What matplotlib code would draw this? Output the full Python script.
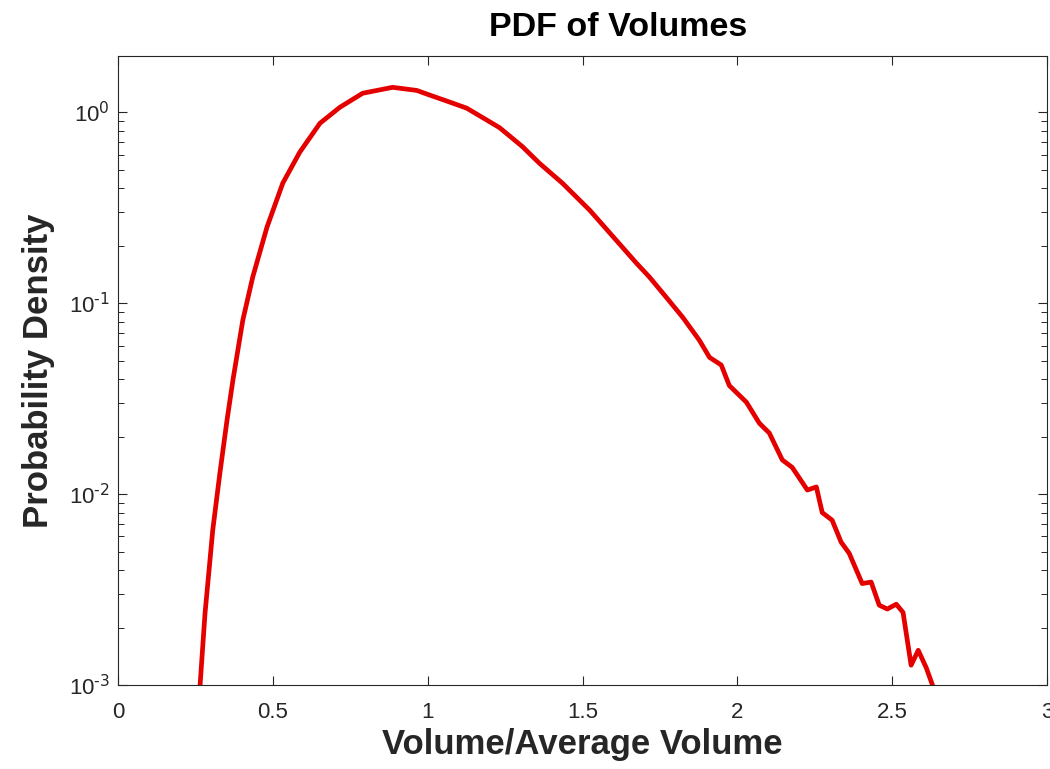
import numpy as np
import matplotlib
matplotlib.use("Agg")
from matplotlib import pyplot as plt
from matplotlib.ticker import FixedLocator, LogLocator, NullFormatter, FuncFormatter

plt.rcParams["font.family"] = ["Liberation Sans", "DejaVu Sans"]
plt.rcParams["mathtext.default"] = "regular"

# values
vol_ratio = [0.265, 0.281, 0.306, 0.329, 0.352, 0.371, 0.403, 0.435, 0.481, 0.532,
             0.587, 0.652, 0.716, 0.790, 0.887, 0.965, 1.006, 1.071, 1.126, 1.232,
             1.306, 1.361, 1.435, 1.523, 1.629, 1.674, 1.716, 1.771, 1.823, 1.877,
             1.910, 1.948, 1.974, 2.029, 2.071, 2.103, 2.145, 2.177, 2.226, 2.255,
             2.274, 2.306, 2.335, 2.361, 2.403, 2.432, 2.458, 2.484, 2.513, 2.535,
             2.561, 2.584, 2.610, 2.629]
density = [0.001, 0.00238, 0.0065, 0.0129, 0.0244, 0.0395, 0.0815, 0.137, 0.25, 0.425,
           0.618, 0.875, 1.06, 1.257, 1.35, 1.30, 1.23, 1.13, 1.05, 0.83,
           0.66, 0.54, 0.425, 0.307, 0.196, 0.162, 0.137, 0.107, 0.0845, 0.064,
           0.052, 0.0474, 0.037, 0.0303, 0.0235, 0.0209, 0.0151, 0.0138, 0.0105, 0.0109,
           0.0080, 0.0073, 0.0056, 0.0049, 0.0034, 0.00346, 0.00262, 0.0025, 0.00265, 0.0024,
           0.00127, 0.00152, 0.00123, 0.00101]
x_ticks = [0, 0.5, 1, 1.5, 2, 2.5, 3]
x_ticklabels = ["0", "0.5", "1", "1.5", "2", "2.5", "3"]
y_ticks = [1e-3, 1e-2, 1e-1, 1e0]

dark = "#262626"

fig = plt.figure(figsize=(10.5, 7.69), dpi=100)
ax = fig.add_axes([0.1124, 0.1092, 0.8848, 0.818])

ax.plot(vol_ratio, density, '-', color="#e50000", linewidth=3.4)
ax.set_yscale("log")
ax.set_xlim(0, 3)
ax.set_ylim(1e-3, 1.97)

ax.xaxis.set_major_locator(FixedLocator(x_ticks))
ax.set_xticklabels(x_ticklabels)
ax.yaxis.set_major_locator(FixedLocator(y_ticks))
ax.yaxis.set_minor_locator(LogLocator(base=10, subs=np.arange(2, 10), numticks=20))
ax.yaxis.set_minor_formatter(NullFormatter())
ax.yaxis.set_major_formatter(
    FuncFormatter(lambda v, p: r"$10^{\text{%d}}$" % round(np.log10(v))))

ax.tick_params(which="both", direction="in", top=True, right=True, colors=dark,
               labelcolor=dark, labelsize=16)
ax.tick_params(which="major", length=6.5, width=0.8)
ax.tick_params(which="minor", length=4, width=0.7)
ax.tick_params(axis="x", pad=12)
ax.tick_params(axis="y", pad=6)
for s in ax.spines.values():
    s.set_color(dark)
    s.set_linewidth(0.8)

ax.set_xlabel("Volume/Average Volume", fontsize=25, fontweight="bold", color=dark, labelpad=4)
ax.set_ylabel("Probability Density", fontsize=25, fontweight="bold", color=dark, labelpad=10)
fig.text(0.589, 0.964, "PDF of Volumes", fontsize=24.5, fontweight="bold",
         ha="center", va="center", color="black")

plt.savefig("out.png", dpi=100)
